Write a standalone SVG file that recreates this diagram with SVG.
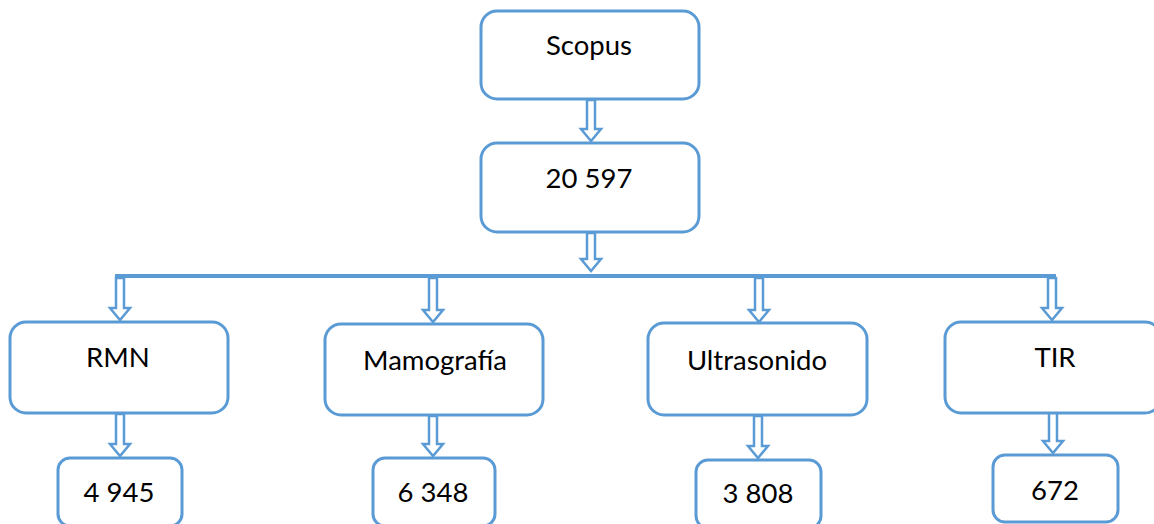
<svg xmlns="http://www.w3.org/2000/svg" width="1154" height="524" viewBox="0 0 1154 524">
<style>
.box{fill:#ffffff;stroke:#5B9BD5;stroke-width:3}
.arr{fill:#ffffff;stroke:#5B9BD5;stroke-width:2.5;stroke-linejoin:miter}
.bar{stroke:#5B9BD5;stroke-width:4;fill:none}
.t{font-family:Lato,"Liberation Sans",sans-serif;font-size:27.5px;fill:#000000;text-anchor:middle}
</style>
<rect x="0" y="0" width="1154" height="524" fill="#ffffff"/>
<g id="connectors">
<line class="bar" x1="115" y1="276" x2="1056" y2="276"/>
<path class="arr" d="M587,100 L595,100 L595,129 L601,129 L591,141 L581,129 L587,129 Z"/>
<path class="arr" d="M587,233 L595,233 L595,259 L601,259 L591,271 L581,259 L587,259 Z"/>
<path class="arr" d="M116,278 L124,278 L124,308 L130,308 L120,320 L110,308 L116,308 Z"/>
<path class="arr" d="M429,278 L437,278 L437,310 L443,310 L433,322 L423,310 L429,310 Z"/>
<path class="arr" d="M755,278 L763,278 L763,310 L769,310 L759,322 L749,310 L755,310 Z"/>
<path class="arr" d="M1048,278 L1056,278 L1056,308 L1062,308 L1052,320 L1042,308 L1048,308 Z"/>
<path class="arr" d="M116,414 L124,414 L124,444 L130,444 L120,456 L110,444 L116,444 Z"/>
<path class="arr" d="M429,416 L437,416 L437,444 L443,444 L433,456 L423,444 L429,444 Z"/>
<path class="arr" d="M754,416 L762,416 L762,446 L768,446 L758,458 L748,446 L754,446 Z"/>
<path class="arr" d="M1049,410 L1057,410 L1057,441 L1063,441 L1053,453 L1043,441 L1049,441 Z"/>
</g>
<g id="scopus"><rect class="box" x="481" y="11" width="218" height="88" rx="16"/><text class="t" x="589" y="55">Scopus</text></g>
<g id="total"><rect class="box" x="481" y="143" width="218" height="89" rx="16"/><text class="t" x="589" y="188">20 597</text></g>
<g id="rmn"><rect class="box" x="10" y="322" width="218" height="91" rx="16"/><text class="t" x="118" y="367">RMN</text></g>
<g id="mamografia"><rect class="box" x="325" y="324" width="218" height="91" rx="16"/><text class="t" x="435" y="370">Mamografía</text></g>
<g id="ultrasonido"><rect class="box" x="648" y="323" width="219" height="92" rx="16"/><text class="t" x="757" y="370">Ultrasonido</text></g>
<g id="tir"><rect class="box" x="945" y="322" width="216" height="91" rx="16"/><text class="t" x="1055" y="367">TIR</text></g>
<g id="rmn-count"><rect class="box" x="58" y="458" width="124" height="68" rx="12"/><text class="t" x="119" y="502">4 945</text></g>
<g id="mamografia-count"><rect class="box" x="373" y="458" width="122" height="68" rx="12"/><text class="t" x="433" y="502">6 348</text></g>
<g id="ultrasonido-count"><rect class="box" x="696" y="460" width="125" height="68" rx="12"/><text class="t" x="758" y="503">3 808</text></g>
<g id="tir-count"><rect class="box" x="993" y="455" width="125" height="67" rx="12"/><text class="t" x="1055" y="500">672</text></g>
</svg>
